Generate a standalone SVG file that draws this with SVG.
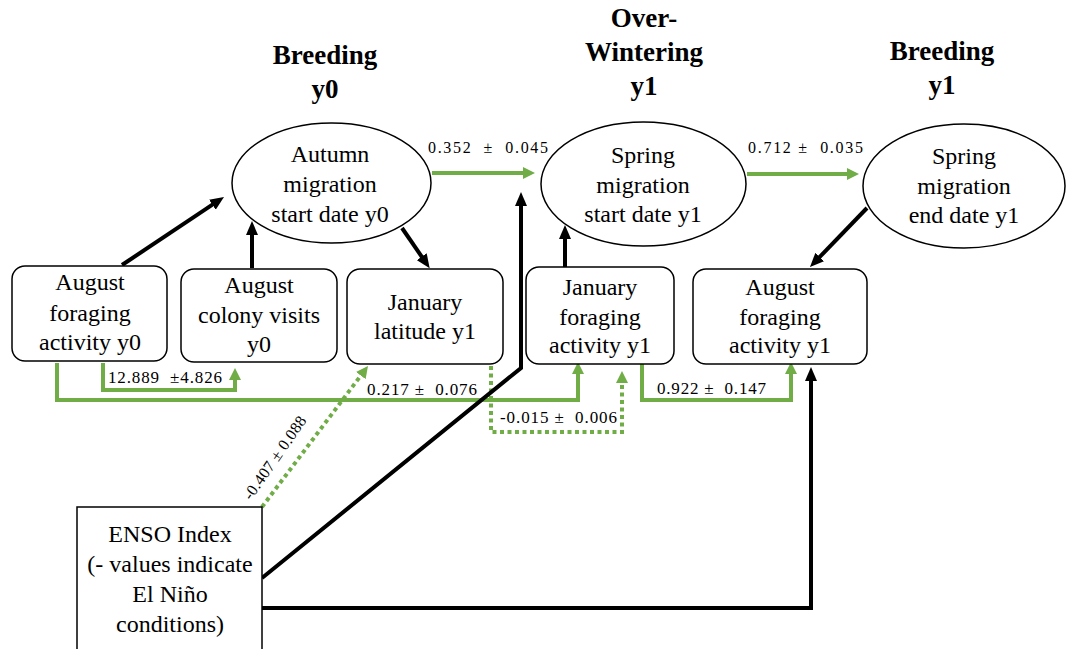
<svg xmlns="http://www.w3.org/2000/svg" width="1066" height="649" viewBox="0 0 1066 649">
<style>
  text { font-family: "Liberation Serif", "Times New Roman", serif; fill: #000; }
  .title { font-size: 27px; font-weight: bold; text-anchor: middle; }
  .node text { font-size: 24px; text-anchor: middle; }
  .node rect, .node ellipse { fill: #fff; stroke: #000; stroke-width: 1.5; }
  .lbl { font-size: 17px; }
  .lbl-top { font-size: 16px; }
  .g { fill: none; stroke: #70AD47; stroke-width: 4; marker-end: url(#ag); }
  .gd { fill: none; stroke: #70AD47; stroke-width: 4; stroke-dasharray: 4 3.5; marker-end: url(#ag); }
  .k { fill: none; stroke: #000; stroke-width: 4; marker-end: url(#ak); }
</style>
<defs>
  <marker id="ag" markerUnits="userSpaceOnUse" viewBox="0 0 12 12" markerWidth="12" markerHeight="12" refX="1" refY="6" orient="auto">
    <path d="M0,0 L12,6 L0,12 z" fill="#70AD47"/>
  </marker>
  <marker id="ak" markerUnits="userSpaceOnUse" viewBox="0 0 14 12" markerWidth="14" markerHeight="12" refX="1" refY="6" orient="auto">
    <path d="M0,0 L14,6 L0,12 z" fill="#000"/>
  </marker>
</defs>
<rect x="0" y="0" width="1066" height="649" fill="#fff"/>

<g id="titles">
  <text class="title" x="325" y="64">Breeding</text>
  <text class="title" x="325" y="98">y0</text>
  <text class="title" x="644" y="27">Over-</text>
  <text class="title" x="644" y="61">Wintering</text>
  <text class="title" x="644" y="95">y1</text>
  <text class="title" x="942" y="60">Breeding</text>
  <text class="title" x="942" y="94">y1</text>
</g>

<g id="connectors">
  <path class="g" d="M432,173 H524"/>
  <path class="g" d="M747,174 H848"/>
  <path class="g" d="M57,363 V400 H578 V373"/>
  <path class="g" d="M103,363 V390 H235 V379"/>
  <path class="g" d="M642,364 V400 H791 V373"/>
  <path class="gd" d="M491,366 V432 H622 V382"/>
  <path class="gd" d="M262,507 L361.4,374.8"/>
  <path class="k" d="M122,265 L213.2,204.2"/>
  <path class="k" d="M252,268 V234"/>
  <path class="k" d="M402,228 L422.3,257.5"/>
  <path class="k" d="M565,267 V238"/>
  <path class="k" d="M867,208 L819,257.7"/>
  <path class="k" d="M262,578 L521,368 V205"/>
  <path class="k" d="M262,608 H811 V380"/>
</g>

<g id="labels">
  <text class="lbl-top" x="428" y="153" xml:space="preserve" textLength="120" lengthAdjust="spacing">0.352  ±  0.045</text>
  <text class="lbl-top" x="748" y="153" xml:space="preserve" textLength="115" lengthAdjust="spacing">0.712 ±  0.035</text>
  <text class="lbl" x="108" y="383" xml:space="preserve" textLength="114" lengthAdjust="spacing">12.889  ±4.826</text>
  <text class="lbl" x="367" y="395" xml:space="preserve" textLength="110" lengthAdjust="spacing">0.217 ±  0.076</text>
  <text class="lbl" x="500" y="423" xml:space="preserve" textLength="117" lengthAdjust="spacing">-0.015 ±  0.006</text>
  <text class="lbl" x="657" y="394" xml:space="preserve" textLength="109" lengthAdjust="spacing">0.922 ±  0.147</text>
  <text class="lbl-top" transform="translate(251,501) rotate(-55)" textLength="98" lengthAdjust="spacing">-0.407 ± 0.088</text>
</g>

<g id="autumn-start-y0" class="node">
  <ellipse cx="331.5" cy="183" rx="99.5" ry="60"/>
  <text x="330" y="162">Autumn</text>
  <text x="330" y="192">migration</text>
  <text x="330" y="222">start date y0</text>
</g>
<g id="spring-start-y1" class="node">
  <ellipse cx="643.5" cy="184" rx="102.5" ry="62"/>
  <text x="643" y="163">Spring</text>
  <text x="643" y="193">migration</text>
  <text x="643" y="222">start date y1</text>
</g>
<g id="spring-end-y1" class="node">
  <ellipse cx="964" cy="186" rx="101" ry="62"/>
  <text x="964" y="164">Spring</text>
  <text x="964" y="194">migration</text>
  <text x="964" y="223">end date y1</text>
</g>
<g id="aug-foraging-y0" class="node">
  <rect x="12" y="266" width="155" height="95" rx="13"/>
  <text x="90" y="290">August</text>
  <text x="90" y="321">foraging</text>
  <text x="90" y="350">activity y0</text>
</g>
<g id="aug-colony-y0" class="node">
  <rect x="181" y="269" width="156" height="93" rx="13"/>
  <text x="259" y="293">August</text>
  <text x="259" y="323">colony visits</text>
  <text x="259" y="352">y0</text>
</g>
<g id="jan-latitude-y1" class="node">
  <rect x="347" y="269" width="156" height="95" rx="13"/>
  <text x="425" y="310">January</text>
  <text x="425" y="339">latitude y1</text>
</g>
<g id="jan-foraging-y1" class="node">
  <rect x="526" y="267" width="148" height="97" rx="13"/>
  <text x="600" y="295">January</text>
  <text x="600" y="325">foraging</text>
  <text x="600" y="353">activity y1</text>
</g>
<g id="aug-foraging-y1" class="node">
  <rect x="693" y="269" width="174" height="95" rx="13"/>
  <text x="780" y="295">August</text>
  <text x="780" y="325">foraging</text>
  <text x="780" y="353">activity y1</text>
</g>
<g id="enso" class="node">
  <rect x="77" y="507" width="185" height="160"/>
  <text x="170" y="542">ENSO Index</text>
  <text x="170" y="572">(- values indicate</text>
  <text x="170" y="602">El Niño</text>
  <text x="170" y="632">conditions)</text>
</g>
</svg>
